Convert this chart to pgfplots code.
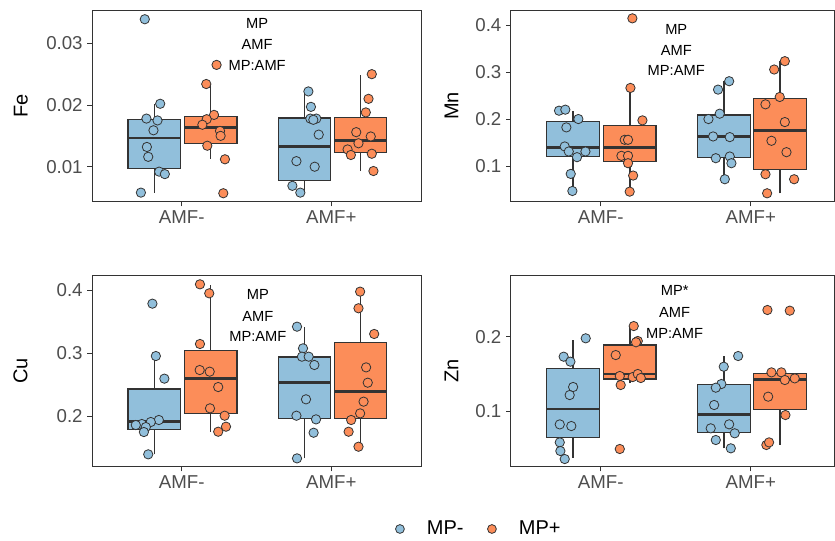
\documentclass[border=0pt]{standalone}
\usepackage{pgfplots}
\pgfplotsset{compat=1.18}
\usepackage{fontspec}
\setmainfont{Liberation Sans}
\definecolor{mpblue}{HTML}{91BFDB}
\definecolor{mporange}{HTML}{FC8D59}
\definecolor{g20}{HTML}{333333}
\definecolor{g30}{HTML}{4D4D4D}
\tikzset{ann/.style={font=\fontsize{11}{13}\selectfont, text=black}}
\pgfplotsset{
  panel/.style={
    scale only axis, height=143.775pt,
    xmin=0.4, xtick={1,2}, xticklabels={AMF-,AMF+},
    axis line style={g20, line width=0.6pt},
    tick style={g20, line width=0.6pt},
    tick align=outside, major tick length=3.5pt, tick pos=left,
    ticklabel style={font=\fontsize{14}{16}\selectfont, text=g30},
    /pgf/number format/assume math mode=true,
    label style={font=\fontsize{15}{18}\selectfont},
    scaled y ticks=false, clip=false,
    anchor=south west,
  },
  bpts/.style={only marks, mark=*, mark size=3.5pt, mark options={fill=mpblue, draw=g20, line width=0.6pt}},
  opts/.style={only marks, mark=*, mark size=3.5pt, mark options={fill=mporange, draw=g20, line width=0.6pt}},
}
% #1 fill, #2 centre, #3 left, #4 right, #5 lower whisker, #6 Q1, #7 median, #8 Q3, #9 upper whisker
\newcommand{\bxp}[9]{%
  \addplot[g20, line width=1pt, forget plot] coordinates {(#2,#5)(#2,#6)};
  \addplot[g20, line width=1pt, forget plot] coordinates {(#2,#8)(#2,#9)};
  \addplot[fill=#1, draw=g20, line width=0.9pt, line join=miter, forget plot] coordinates {(#3,#6)(#4,#6)(#4,#8)(#3,#8)(#3,#6)(#4,#6)};
  \addplot[g20, line width=2.2pt, forget plot] coordinates {(#3,#7)(#4,#7)};
}
\begin{document}
\begin{tikzpicture}
\path (0pt,0pt) rectangle (626.25pt,405.75pt);
% ---------- Fe ----------
\begin{axis}[panel, at={(69pt,254.475pt)}, width=246.75pt, xmax=2.6,
  ymin=0.00433, ymax=0.0354, ytick={0.01,0.02,0.03}, yticklabels={0.01,0.02,0.03},
  ylabel={Fe}, ylabel style={at={(axis description cs:-0.216,0.5)}, anchor=center}]
\bxp{mpblue}{0.816}{0.641}{0.991}{0.0058}{0.0097}{0.01465}{0.0177}{0.0202}
\bxp{mporange}{1.194}{1.019}{1.369}{0.0113}{0.0138}{0.0163}{0.0181}{0.0234}
\bxp{mpblue}{1.822}{1.647}{1.997}{0.0058}{0.0077}{0.0132}{0.0179}{0.0222}
\bxp{mporange}{2.194}{2.019}{2.369}{0.0093}{0.0123}{0.0143}{0.0180}{0.0249}
\addplot[bpts] coordinates {(0.753,0.0339)(0.856,0.0202)(0.764,0.0178)(0.838,0.0175)(0.811,0.0159)(0.767,0.0132)(0.776,0.0116)(0.849,0.0092)(0.887,0.0088)(0.727,0.0058)
 (1.847,0.0222)(1.864,0.0197)(1.86,0.0178)(1.9,0.0178)(1.88,0.0176)(1.916,0.0152)(1.767,0.0109)(1.889,0.0100)(1.74,0.0069)(1.793,0.0058)};
\addplot[opts] coordinates {(1.233,0.0265)(1.164,0.0234)(1.216,0.0184)(1.167,0.0177)(1.138,0.0168)(1.256,0.0158)(1.26,0.0150)(1.171,0.0134)(1.289,0.0112)(1.278,0.0057)
 (2.271,0.0250)(2.249,0.0210)(2.231,0.0188)(2.167,0.0156)(2.264,0.0149)(2.182,0.0138)(2.109,0.0128)(2.131,0.0119)(2.271,0.0121)(2.282,0.0093)};
\node[ann] at (axis description cs:0.502,0.930) {MP};
\node[ann] at (axis description cs:0.502,0.821) {AMF};
\node[ann] at (axis description cs:0.502,0.713) {MP:AMF};
\end{axis}
% ---------- Mn ----------
\begin{axis}[panel, at={(383.025pt,254.475pt)}, width=242.5pt, xmax=2.555,
  ymin=0.0255, ymax=0.4319, ytick={0.1,0.2,0.3,0.4}, yticklabels={0.1,0.2,0.3,0.4},
  ylabel={Mn}, ylabel style={at={(axis description cs:-0.183,0.5)}, anchor=center}]
\bxp{mpblue}{0.816}{0.641}{0.991}{0.048}{0.122}{0.1404}{0.1957}{0.218}
\bxp{mporange}{1.194}{1.019}{1.369}{0.0468}{0.1106}{0.1411}{0.1865}{0.2667}
\bxp{mpblue}{1.822}{1.647}{1.997}{0.0731}{0.1184}{0.1638}{0.2092}{0.2809}
\bxp{mporange}{2.194}{2.019}{2.369}{0.0433}{0.0943}{0.1759}{0.244}{0.3234}
\addplot[bpts] coordinates {(0.722,0.2184)(0.764,0.2206)(0.851,0.2007)(0.771,0.183)(0.76,0.1426)(0.787,0.1319)(0.898,0.1319)(0.842,0.1199)(0.8,0.0844)(0.811,0.0482)
 (1.856,0.2809)(1.782,0.2631)(1.793,0.2121)(1.718,0.2007)(1.749,0.1638)(1.86,0.1624)(1.767,0.1177)(1.86,0.1213)(1.871,0.1071)(1.827,0.0731)};
\addplot[opts] coordinates {(1.211,0.4142)(1.198,0.2667)(1.278,0.1979)(1.16,0.1567)(1.182,0.1567)(1.138,0.1227)(1.182,0.1227)(1.182,0.1071)(1.216,0.0809)(1.193,0.0468)
 (2.227,0.3234)(2.156,0.3057)(2.193,0.2475)(2.098,0.2319)(2.227,0.1943)(2.138,0.1546)(2.238,0.1305)(2.098,0.0837)(2.289,0.0731)(2.109,0.0433)};
\node[ann] at (axis description cs:0.512,0.899) {MP};
\node[ann] at (axis description cs:0.512,0.791) {AMF};
\node[ann] at (axis description cs:0.512,0.682) {MP:AMF};
\end{axis}
% ---------- Cu ----------
\begin{axis}[panel, at={(69pt,55.725pt)}, width=246.75pt, xmax=2.6,
  ymin=0.1196, ymax=0.4238, ytick={0.2,0.3,0.4}, yticklabels={0.2,0.3,0.4},
  ylabel={Cu}, ylabel style={at={(axis description cs:-0.217,0.5)}, anchor=center}]
\bxp{mpblue}{0.816}{0.641}{0.991}{0.1392}{0.1788}{0.191}{0.2429}{0.2937}
\bxp{mporange}{1.194}{1.019}{1.369}{0.1751}{0.2042}{0.2593}{0.3037}{0.408}
\bxp{mpblue}{1.822}{1.647}{1.997}{0.1328}{0.1963}{0.2534}{0.2937}{0.3418}
\bxp{mporange}{2.194}{2.019}{2.369}{0.1513}{0.1963}{0.2386}{0.3169}{0.3974}
\addplot[bpts] coordinates {(0.804,0.3783)(0.827,0.2952)(0.884,0.2593)(0.847,0.1937)(0.793,0.1905)(0.733,0.1873)(0.693,0.1857)(0.76,0.1825)(0.747,0.1746)(0.776,0.1392)
 (1.771,0.3418)(1.811,0.3074)(1.804,0.2942)(1.849,0.2942)(1.887,0.281)(1.831,0.2265)(1.767,0.2005)(1.898,0.1947)(1.882,0.1735)(1.771,0.1328)};
\addplot[opts] coordinates {(1.122,0.409)(1.184,0.3947)(1.122,0.3143)(1.12,0.273)(1.187,0.2704)(1.244,0.246)(1.189,0.2122)(1.287,0.2005)(1.296,0.1831)(1.244,0.1751)
 (2.193,0.3974)(2.182,0.371)(2.287,0.3302)(2.233,0.2772)(2.244,0.2529)(2.216,0.2228)(2.193,0.2042)(2.133,0.1937)(2.116,0.1751)(2.182,0.1513)};
\node[ann] at (axis description cs:0.504,0.896) {MP};
\node[ann] at (axis description cs:0.504,0.783) {AMF};
\node[ann] at (axis description cs:0.504,0.678) {MP:AMF};
\end{axis}
% ---------- Zn ----------
\begin{axis}[panel, at={(383.025pt,55.725pt)}, width=242.5pt, xmax=2.555,
  ymin=0.0251, ymax=0.283, ytick={0.1,0.2}, yticklabels={0.1,0.2},
  ylabel={Zn}, ylabel style={at={(axis description cs:-0.183,0.5)}, anchor=center},
  legend columns=2,
  legend image code/.code={\draw[#1] plot coordinates {(0pt,0pt)}; \path (20pt,0pt);},
  legend style={at={(axis description cs:-0.101,-0.325)}, anchor=center, draw=none, fill=none,
    inner sep=0pt, nodes={inner sep=0pt},
    font=\fontsize{15}{18}\selectfont, /tikz/every even column/.append style={column sep=18pt}}]
\addlegendimage{only marks, mark=*, mark size=3.3pt, mark options={fill=mpblue, draw=g20, line width=0.6pt}}
\addlegendentry{MP-}
\addlegendimage{only marks, mark=*, mark size=3.3pt, mark options={fill=mporange, draw=g20, line width=0.6pt}}
\addlegendentry{MP+}
\bxp{mpblue}{0.816}{0.641}{0.991}{0.0372}{0.0641}{0.1027}{0.1574}{0.1955}
\bxp{mporange}{1.194}{1.019}{1.369}{0.1372}{0.143}{0.1498}{0.1888}{0.2148}
\bxp{mpblue}{1.822}{1.647}{1.997}{0.0498}{0.0713}{0.0955}{0.1359}{0.174}
\bxp{mporange}{2.194}{2.019}{2.369}{0.0543}{0.1022}{0.143}{0.1507}{0.152}
\addplot[bpts, forget plot] coordinates {(0.9,0.1978)(0.753,0.1731)(0.798,0.1664)(0.816,0.1323)(0.793,0.1215)(0.727,0.082)(0.804,0.0798)(0.727,0.0578)(0.731,0.0462)(0.76,0.0354)
 (1.916,0.174)(1.82,0.1596)(1.804,0.1363)(1.767,0.1314)(1.756,0.1081)(1.856,0.0821)(1.733,0.0767)(1.893,0.07)(1.767,0.061)(1.867,0.0498)};
\addplot[opts, forget plot] coordinates {(1.22,0.2143)(1.247,0.1942)(1.235,0.1925)(1.1,0.1753)(1.127,0.1471)(1.133,0.135)(1.213,0.1457)(1.247,0.1498)(1.267,0.1444)(1.127,0.0489)
 (2.111,0.2359)(2.26,0.235)(2.138,0.152)(2.204,0.152)(2.227,0.1417)(2.293,0.1439)(2.116,0.1193)(2.231,0.0946)(2.104,0.0543)(2.122,0.0578)};
\node[ann] at (axis description cs:0.507,0.917) {MP*};
\node[ann] at (axis description cs:0.507,0.803) {AMF};
\node[ann] at (axis description cs:0.507,0.696) {MP:AMF};
\end{axis}
\end{tikzpicture}
\end{document}
